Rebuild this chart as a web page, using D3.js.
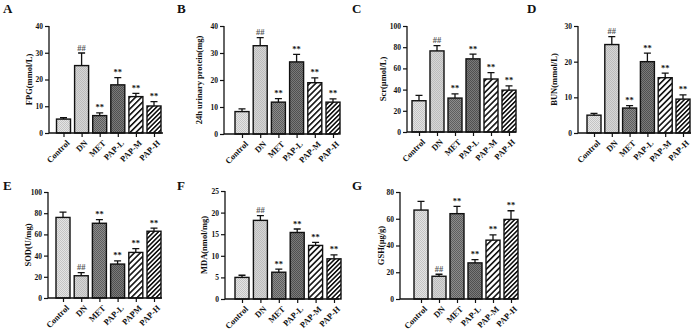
<!DOCTYPE html>
<html><head><meta charset="utf-8">
<script src="https://cdn.jsdelivr.net/npm/d3@7"></script>
<style>body{margin:0;background:#fff}svg{display:block}text{font-family:"Liberation Serif","Times New Roman",serif;font-weight:bold}</style>
</head><body><svg id="c" width="700" height="332"></svg>
<script>
const groups = ["Control","DN","MET","PAP-L","PAP-M","PAP-H"];
const groupsE = ["Control","DN","MET","PAP-L","PAPM","PAP-H"];
const panelLetters = ["A","B","C","D","E","F","G"];
const yTitles = ["FPG(mmol/L)","24h urinary protein(mg)","Scr(μmol/L)","BUN(mmol/L)","SOD(U/mg)","MDA(nmol/mg)","GSH(μg/g)"];
const yMax = [40,40,100,30,100,25,80];
const yStep = [10,10,20,10,20,5,20];
const meansA = [5.2,25.2,6.5,18.0,13.6,10.1];
const errA   = [0.5,4.7,1.0,2.7,1.2,1.6];
const meansB = [8.3,32.7,11.8,26.7,19.0,11.8];
const errB   = [1.0,3.0,1.3,2.8,1.8,1.2];
const meansC = [29.5,76.5,32.0,69.0,50.0,39.5];
const errC   = [5.0,5.0,4.0,4.5,6.0,4.0];
const meansD = [5.0,24.8,7.0,20.0,15.5,9.5];
const errD   = [0.5,2.2,0.7,2.4,1.3,1.2];
const meansE = [76.0,21.0,70.5,32.0,43.0,63.0];
const errE   = [5.0,3.0,3.5,3.0,3.5,3.0];
const meansF = [5.0,18.2,6.2,15.4,12.4,9.3];
const errF   = [0.5,1.1,0.7,0.8,0.7,0.9];
const meansG = [66.5,17.0,63.8,27.0,44.0,59.5];
const errG   = [6.5,1.5,5.5,2.5,4.0,6.5];
const marks  = ["","##","**","**","**","**"];

const means = [meansA,meansB,meansC,meansD,meansE,meansF,meansG];
const errs = [errA,errB,errC,errD,errE,errF,errG];
const cats = [groups,groups,groups,groups,groupsE,groups,groups];

// layout: [yAxisX, firstCenter, lastCenter, axisEnd, yTop, yZero, letterX, letterY, titleX]
const layout = [
  [49,63.5,154,163,26,133,3,13,32],
  [224,242,333,338,26,134,177,13,202],
  [407,419,509,516,26,132,352,13,386],
  [578,594,683,691,26,133,527,13,557],
  [48,63,154,162,192,298,3,190,31],
  [225,242,334,339,191,299,177,190,207],
  [400,421,511,516,192,299,352,190,384]
];

const svg = d3.select("#c");
const defs = svg.append("defs");
function checker(id, a, b, s){
  const p = defs.append("pattern").attr("id",id).attr("patternUnits","userSpaceOnUse").attr("width",s*2).attr("height",s*2);
  p.append("rect").attr("width",s*2).attr("height",s*2).attr("fill",a);
  p.append("rect").attr("width",s).attr("height",s).attr("fill",b);
  p.append("rect").attr("x",s).attr("y",s).attr("width",s).attr("height",s).attr("fill",b);
}
checker("p0","#e4e4e4","#c4c4c4",1);
checker("p1","#d6d6d6","#bcbcbc",1);
checker("p2","#8c8c8c","#5e5e5e",1);
checker("p3","#7a7a7a","#505050",1);
function stripes(id, s, w){
  const p = defs.append("pattern").attr("id",id).attr("patternUnits","userSpaceOnUse").attr("width",s).attr("height",s).attr("patternTransform","rotate(45)");
  p.append("rect").attr("width",s).attr("height",s).attr("fill","#fff");
  p.append("rect").attr("width",w).attr("height",s).attr("fill","#111");
}
stripes("p4",4.2,1.6);
stripes("p5",3.2,1.6);

for(let i=0;i<7;i++){
  const [ax,c0,c1,aEnd,yT,y0,lx,ly,tx] = layout[i];
  const g = svg.append("g");
  const y = d3.scaleLinear().domain([0,yMax[i]]).range([y0,yT]);
  const x = d3.scalePoint().domain(cats[i]).range([c0,c1]);
  const bw = 14;
  const data = cats[i].map((c,k)=>({c,k,m:means[i][k],e:errs[i][k]}));
  // bars
  g.selectAll("rect.bar").data(data).join("rect").attr("class","bar")
    .attr("x",d=>x(d.c)-bw/2).attr("width",bw)
    .attr("y",d=>y(d.m)).attr("height",d=>y0-y(d.m))
    .attr("fill",d=>`url(#p${d.k})`).attr("stroke","#111").attr("stroke-width",1.4);
  // error bars
  g.selectAll("path.err").data(data).join("path").attr("class","err")
    .attr("d",d=>`M${x(d.c)},${y(d.m)}V${y(d.m+d.e)}M${x(d.c)-3.5},${y(d.m+d.e)}H${x(d.c)+3.5}`)
    .attr("stroke","#111").attr("stroke-width",1.3).attr("fill","none");
  // annotations
  g.selectAll("text.mk").data(data).join("text").attr("class","mk")
    .attr("x",d=>x(d.c)).attr("y",d=>y(d.m+d.e)-2.5)
    .attr("text-anchor","middle").attr("font-size",8.5)
    .attr("fill",d=>marks[d.k]==="##"?"#555":"#111")
    .text(d=>marks[d.k]);
  // y axis
  const yAx = d3.axisLeft(y).tickValues(d3.range(0,yMax[i]+0.001,yStep[i])).tickSize(4).tickPadding(2);
  const ya = g.append("g").attr("transform",`translate(${ax},0)`).call(yAx);
  ya.select(".domain").attr("d",`M0,${yT}V${y0}`).attr("stroke","#111").attr("stroke-width",1.3);
  ya.selectAll(".tick line").attr("stroke","#111").attr("stroke-width",1.2);
  ya.selectAll(".tick text").attr("font-size",7.5).attr("fill","#111").attr("font-family","Liberation Serif").attr("font-weight","bold");
  // x axis
  const xAx = d3.axisBottom(x).tickSize(4).tickFormat("");
  const xa = g.append("g").attr("transform",`translate(0,${y0})`).call(xAx);
  xa.select(".domain").attr("d",`M${ax},0H${aEnd}`).attr("stroke","#111").attr("stroke-width",1.3);
  xa.selectAll(".tick line").attr("stroke","#111").attr("stroke-width",1.2);
  g.selectAll("text.xl").data(data).join("text").attr("class","xl")
    .attr("transform",d=>`translate(${x(d.c)+3},${y0+7}) rotate(-45)`)
    .attr("text-anchor","end").attr("dy","0.6em").attr("font-size",8.5).attr("fill","#111")
    .text(d=>d.c);
  // y title
  g.append("text").attr("transform",`translate(${tx},${(yT+y0)/2}) rotate(-90)`)
    .attr("text-anchor","middle").attr("font-size",8.5).attr("fill","#111").text(yTitles[i]);
  // panel letter
  g.append("text").attr("x",lx).attr("y",ly).attr("font-size",13).attr("fill","#111").text(panelLetters[i]);
}
</script></body></html>
